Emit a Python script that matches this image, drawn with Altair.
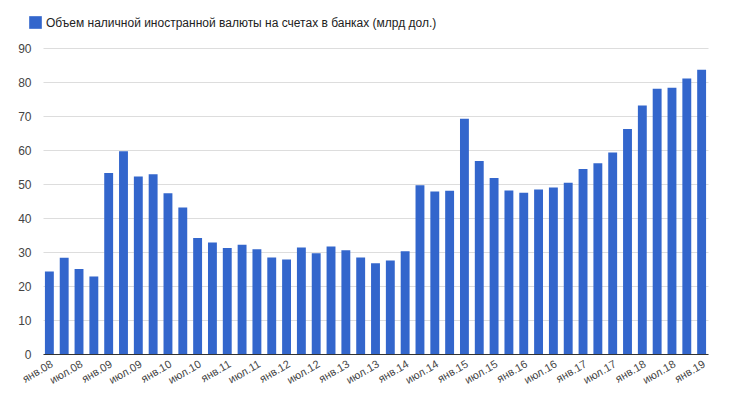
import altair as alt
import pandas as pd

months = ["янв", "апр", "июл", "окт"]
years = [f"{y:02d}" for y in range(8, 20)]
periods = [f"{m}.{y}" for y in years for m in months][:45]

values = [24.3, 28.3, 25.0, 22.8, 53.2, 59.6, 52.2, 52.9, 47.3, 43.1,
          34.1, 32.8, 31.2, 32.1, 30.8, 28.4, 27.8, 31.3, 29.6, 31.6,
          30.5, 28.4, 26.7, 27.5, 30.2, 49.6, 47.8, 48.0, 69.2, 56.8,
          51.8, 48.1, 47.4, 48.4, 49.0, 50.4, 54.4, 56.1, 59.3, 66.2,
          73.1, 78.0, 78.3, 81.0, 83.6]

series_name = "Объем наличной иностранной валюты на счетах в банках (млрд дол.)"
tick_labels = [p for p in periods if p.startswith("янв") or p.startswith("июл")]

df = pd.DataFrame({"period": periods, "value": values, "series": series_name})

chart = alt.Chart(df).mark_bar(color="#3366CC").encode(
    x=alt.X("period:N", sort=periods, title=None,
            scale=alt.Scale(paddingInner=0.4, paddingOuter=0.13),
            axis=alt.Axis(values=tick_labels, labelAngle=-30, labelAlign="right",
                          labelBaseline="top", ticks=False, domainColor="#333333",
                          labelColor="#444444", labelFontSize=11, labelPadding=4,
                          labelFont="Liberation Sans")),
    y=alt.Y("value:Q", title=None,
            scale=alt.Scale(domain=[0, 90], nice=False),
            axis=alt.Axis(values=list(range(0, 91, 10)), domain=False, ticks=False,
                          gridColor="#dddddd", labelColor="#444444", labelFontSize=12,
                          labelPadding=12, labelFont="Liberation Sans")),
    color=alt.Color("series:N", scale=alt.Scale(range=["#3366CC"]),
                    legend=alt.Legend(title=None, orient="none", legendX=-14, legendY=-32,
                                      symbolType="square", symbolSize=160,
                                      symbolStrokeWidth=0, labelFontSize=12,
                                      labelColor="#222222", labelFont="Liberation Sans",
                                      labelLimit=600)),
).properties(
    width=665, height=306,
    autosize=alt.AutoSizeParams(type="none"),
    padding={"left": 35, "top": 40, "right": 20, "bottom": 40},
).configure_view(stroke=None)

chart.save("out.html", embed_options={"renderer": "svg", "actions": False})
